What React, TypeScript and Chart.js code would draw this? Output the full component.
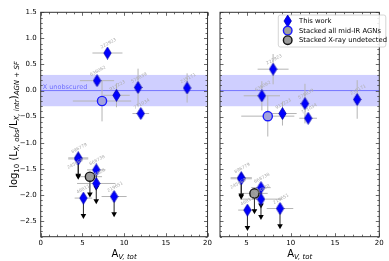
import React, { useEffect, useRef } from 'react';
import { Chart, registerables } from 'chart.js';
Chart.register(...registerables);

const FONT = "'DejaVu Sans', sans-serif";

// Source IDs
const SRC_DET = ['222923', '636062', '911223', '578839', '771034', '235171'];
const SRC_LIM = ['896779', '245869', '668738', '174820', '468117', '219651'];

// ---- Left panel ----
const L_DET_X = [8.0, 6.75, 9.08, 11.67, 12.0, 17.55];
const L_DET_Y = [0.72, 0.19, -0.09, 0.06, -0.44, 0.05];
const L_DET_XERR = [1.8, 2.05, 1.6, 0.55, 1.0, 0.4];
const L_DET_YERR = [0.1, 0.06, 0.23, 0.36, 0.06, 0.28];
const L_LIM_X = [4.5, 4.5, 6.66, 6.66, 5.12, 8.8];
const L_LIM_Y = [-1.29, -1.31, -1.52, -1.78, -2.06, -2.03];
const L_LIM_XERR = [1.2, 1.2, 1.1, 2.3, 1.05, 1.5];
const L_MIR = { x: 7.35, y: -0.2, xerr: 3.5, yerr: 0.39 };
const L_XUND = { x: 5.9, y: -1.65, xerr: 1.45 };

// ---- Right panel ----
const R_DET_X = [8.0, 6.73, 9.06, 11.6, 11.96, 17.5];
const R_DET_Y = [0.41, -0.1, -0.44, -0.25, -0.53, -0.17];
const R_DET_XERR = [1.75, 2.05, 1.6, 0.55, 1.0, 0.4];
const R_DET_YERR = [0.29, 0.28, 0.23, 0.38, 0.08, 0.37];
const R_LIM_X = [4.4, 4.4, 6.63, 6.63, 5.1, 8.78];
const R_LIM_Y = [-1.67, -1.69, -1.86, -2.08, -2.29, -2.26];
const R_LIM_XERR = [1.2, 1.2, 1.1, 2.35, 1.05, 1.5];
const R_MIR = { x: 7.4, y: -0.49, xerr: 3.0, yerr: 0.39 };
const R_XUND = { x: 5.89, y: -1.97, xerr: 1.5 };

const UPLIM_LEN = 0.39;
const BAND = [-0.3, 0.3];
const Y_MIN = -2.8, Y_MAX = 1.5;
const Y_TICKS = [-2.5, -2.0, -1.5, -1.0, -0.5, 0.0, 0.5, 1.0, 1.5];
const L_XRANGE = [0, 20];
const R_XRANGE = [2, 20];
const L_XTICKS = [0, 5, 10, 15, 20];
const R_XTICKS = [5, 10, 15, 20];

const LEGEND_LABELS = ['This work', 'Stacked all mid-IR AGNs', 'Stacked X-ray undetected'];

function makeDiamond(): HTMLCanvasElement {
  const c = document.createElement('canvas');
  c.width = 9; c.height = 13;
  const g = c.getContext('2d')!;
  g.beginPath();
  g.moveTo(4.5, 0.6); g.lineTo(8.2, 6.5); g.lineTo(4.5, 12.4); g.lineTo(0.8, 6.5); g.closePath();
  g.fillStyle = '#0000ff'; g.fill();
  g.strokeStyle = '#0000b0'; g.lineWidth = 0.8; g.stroke();
  return c;
}

function drawDiamondAt(ctx: CanvasRenderingContext2D, x: number, y: number) {
  ctx.beginPath();
  ctx.moveTo(x, y - 5.9); ctx.lineTo(x + 3.7, y); ctx.lineTo(x, y + 5.9); ctx.lineTo(x - 3.7, y); ctx.closePath();
  ctx.fillStyle = '#0000ff'; ctx.fill();
  ctx.strokeStyle = '#0000b0'; ctx.lineWidth = 0.8; ctx.stroke();
}

type Run = { t: string; s: number; sub?: boolean; it?: boolean };
function drawRuns(ctx: CanvasRenderingContext2D, runs: Run[], cx: number, cy: number, rot: number) {
  ctx.save();
  ctx.translate(cx, cy);
  ctx.rotate(rot);
  let total = 0;
  const widths = runs.map(r => {
    ctx.font = `${r.it ? 'italic ' : ''}${r.s}px ${FONT}`;
    const w = ctx.measureText(r.t).width;
    total += w;
    return w;
  });
  let x = -total / 2;
  ctx.fillStyle = '#000';
  ctx.textBaseline = 'alphabetic';
  ctx.textAlign = 'left';
  runs.forEach((r, i) => {
    ctx.font = `${r.it ? 'italic ' : ''}${r.s}px ${FONT}`;
    ctx.fillText(r.t, x, r.sub ? 2.6 : 0);
    x += widths[i];
  });
  ctx.restore();
}

function buildPanel(side: 'L' | 'R') {
  const isL = side === 'L';
  const detX = isL ? L_DET_X : R_DET_X, detY = isL ? L_DET_Y : R_DET_Y;
  const detXe = isL ? L_DET_XERR : R_DET_XERR, detYe = isL ? L_DET_YERR : R_DET_YERR;
  const limX = isL ? L_LIM_X : R_LIM_X, limY = isL ? L_LIM_Y : R_LIM_Y;
  const limXe = isL ? L_LIM_XERR : R_LIM_XERR;
  const mir = isL ? L_MIR : R_MIR, xund = isL ? L_XUND : R_XUND;

  const workData = [
    ...detX.map((x, i) => ({ x, y: detY[i] })),
    ...limX.map((x, i) => ({ x, y: limY[i] })),
  ];
  const work: any = {
    label: LEGEND_LABELS[0],
    data: workData,
    xerr: [...detXe, ...limXe],
    yerr: [...detYe, ...limX.map(() => 0)],
    lim: [...detX.map(() => false), ...limX.map(() => true)],
    names: [...SRC_DET, ...SRC_LIM],
    pointStyle: makeDiamond(),
    pointRadius: 5,
    order: 1,
  };
  const mirDs: any = {
    label: LEGEND_LABELS[1],
    data: [{ x: mir.x, y: mir.y }],
    xerr: [mir.xerr], yerr: [mir.yerr], lim: [false],
    pointStyle: 'circle', pointRadius: 4.6, borderWidth: 1.4,
    backgroundColor: '#a2a2dc', borderColor: '#1a1aff', order: 2,
  };
  const xundDs: any = {
    label: LEGEND_LABELS[2],
    data: [{ x: xund.x, y: xund.y }],
    xerr: [xund.xerr], yerr: [0], lim: [true],
    pointStyle: 'circle', pointRadius: 4.6, borderWidth: 1.4,
    backgroundColor: '#9a9a9a', borderColor: '#111111', order: 0,
  };
  return [work, mirDs, xundDs];
}

function makePlugin(side: 'L' | 'R') {
  const isL = side === 'L';
  const xMinor: number[] = [];
  const xr = isL ? L_XRANGE : R_XRANGE;
  for (let v = Math.ceil(xr[0]); v <= xr[1]; v += 1) xMinor.push(v);
  const xMajor = isL ? L_XTICKS : R_XTICKS;
  const yMinor: number[] = [];
  for (let k = -28; k <= 15; k++) yMinor.push(k / 10);

  return {
    id: 'panel' + side,
    beforeDatasetsDraw(chart: any) {
      const { ctx, chartArea: a, scales: { x, y } } = chart;
      ctx.save();
      ctx.beginPath(); ctx.rect(a.left, a.top, a.right - a.left, a.bottom - a.top); ctx.clip();
      // band
      const b0 = y.getPixelForValue(BAND[1]), b1 = y.getPixelForValue(BAND[0]);
      ctx.fillStyle = 'rgba(0,0,255,0.19)';
      ctx.fillRect(a.left, b0, a.right - a.left, b1 - b0);
      const z = y.getPixelForValue(0);
      ctx.strokeStyle = 'rgba(40,40,255,0.55)'; ctx.lineWidth = 1;
      ctx.beginPath(); ctx.moveTo(a.left, z); ctx.lineTo(a.right, z); ctx.stroke();
      if (isL) {
        ctx.fillStyle = 'rgba(40,40,255,0.6)';
        ctx.font = `6.5px ${FONT}`; ctx.textBaseline = 'alphabetic'; ctx.textAlign = 'left';
        ctx.fillText('X unobscured', a.left + 2, z - 1.5);
      }
      // error bars
      ctx.strokeStyle = '#b4b4b4'; ctx.lineWidth = 1;
      chart.data.datasets.forEach((ds: any) => {
        ds.data.forEach((p: any, i: number) => {
          const px = x.getPixelForValue(p.x), py = y.getPixelForValue(p.y);
          if (ds.xerr && ds.xerr[i]) {
            ctx.beginPath();
            ctx.moveTo(x.getPixelForValue(p.x - ds.xerr[i]), py);
            ctx.lineTo(x.getPixelForValue(p.x + ds.xerr[i]), py);
            ctx.stroke();
          }
          if (ds.yerr && ds.yerr[i]) {
            ctx.beginPath();
            ctx.moveTo(px, y.getPixelForValue(p.y - ds.yerr[i]));
            ctx.lineTo(px, y.getPixelForValue(p.y + ds.yerr[i]));
            ctx.stroke();
          }
        });
      });
      // upper-limit arrows
      chart.data.datasets.forEach((ds: any) => {
        ds.data.forEach((p: any, i: number) => {
          if (!ds.lim || !ds.lim[i]) return;
          const px = x.getPixelForValue(p.x), py = y.getPixelForValue(p.y);
          const ey = y.getPixelForValue(p.y - UPLIM_LEN);
          ctx.strokeStyle = '#222'; ctx.lineWidth = 1;
          ctx.beginPath(); ctx.moveTo(px, py); ctx.lineTo(px, ey - 3); ctx.stroke();
          ctx.fillStyle = '#000';
          ctx.beginPath(); ctx.moveTo(px - 2.8, ey - 4.5); ctx.lineTo(px + 2.8, ey - 4.5); ctx.lineTo(px, ey + 0.5); ctx.closePath(); ctx.fill();
        });
      });
      ctx.restore();
    },
    afterDatasetsDraw(chart: any) {
      const { ctx, chartArea: a, scales: { x, y } } = chart;
      ctx.save();
      // source labels
      const ds = chart.data.datasets[0];
      ctx.fillStyle = '#ababab';
      ctx.font = `4.5px ${FONT}`; ctx.textAlign = 'center'; ctx.textBaseline = 'middle';
      ds.data.forEach((p: any, i: number) => {
        const px = x.getPixelForValue(p.x), py = y.getPixelForValue(p.y);
        const dup = ds.data.slice(0, i).some((q: any) => Math.abs(q.x - p.x) < 0.05 && Math.abs(q.y - p.y) < 0.05);
        ctx.save();
        if (dup) ctx.translate(px - 3, py + 5); else ctx.translate(px + 1, py - 9.5);
        ctx.rotate(-0.5);
        ctx.fillText(ds.names[i], 0, 0);
        ctx.restore();
      });
      // frame & ticks
      ctx.strokeStyle = '#444'; ctx.lineWidth = 0.8;
      const tick = (x0: number, y0: number, x1: number, y1: number) => { ctx.beginPath(); ctx.moveTo(x0, y0); ctx.lineTo(x1, y1); ctx.stroke(); };
      xMinor.forEach(v => {
        const px = Math.round(x.getPixelForValue(v)) + 0.5;
        const L = xMajor.includes(v) ? 3.5 : 2;
        tick(px, a.bottom, px, a.bottom - L);
        tick(px, a.top, px, a.top + L);
      });
      yMinor.forEach(v => {
        const py = Math.round(y.getPixelForValue(v)) + 0.5;
        const L = Math.abs(v * 2 - Math.round(v * 2)) < 1e-6 ? 3.5 : 2;
        tick(a.left, py, a.left + L, py);
        tick(a.right, py, a.right - L, py);
      });
      ctx.strokeStyle = '#333'; ctx.lineWidth = 1;
      ctx.strokeRect(a.left, a.top, a.right - a.left, a.bottom - a.top);
      ctx.restore();
    },
    afterDraw(chart: any) {
      const { ctx, chartArea: a } = chart;
      const cx = (a.left + a.right) / 2;
      drawRuns(ctx, [
        { t: 'A', s: 10 },
        { t: 'V, tot', s: 7, sub: true, it: true },
      ], cx, 256.5, 0);
      if (isL) {
        drawRuns(ctx, [
          { t: 'log', s: 10 },
          { t: '10', s: 7, sub: true },
          { t: ' (L', s: 10 },
          { t: 'X, obs', s: 7, sub: true, it: true },
          { t: '/L', s: 10 },
          { t: 'X, intr', s: 7, sub: true, it: true },
          { t: ')', s: 10 },
          { t: 'AGN + SF', s: 7, sub: true, it: true },
        ], 16.5, (a.top + a.bottom) / 2, -Math.PI / 2);
      } else {
        // legend
        const bx = a.left + 58.3, by = 15, bw = 107.5, bh = 32;
        ctx.save();
        ctx.fillStyle = 'rgba(255,255,255,0.85)';
        ctx.strokeStyle = '#cccccc'; ctx.lineWidth = 0.8;
        ctx.beginPath();
        (ctx as any).roundRect ? (ctx as any).roundRect(bx, by, bw, bh, 2) : ctx.rect(bx, by, bw, bh);
        ctx.fill(); ctx.stroke();
        const mx = bx + 9.4;
        const rows = [by + 6, by + 15.6, by + 25.2];
        drawDiamondAt(ctx, mx, rows[0]);
        ctx.lineWidth = 1.4;
        ctx.beginPath(); ctx.arc(mx, rows[1], 4.3, 0, Math.PI * 2);
        ctx.fillStyle = '#a0a0a0'; ctx.fill(); ctx.strokeStyle = '#1a1aff'; ctx.stroke();
        ctx.beginPath(); ctx.arc(mx, rows[2], 4.3, 0, Math.PI * 2);
        ctx.fillStyle = '#9a9a9a'; ctx.fill(); ctx.strokeStyle = '#111'; ctx.stroke();
        ctx.fillStyle = '#000'; ctx.font = `6.8px ${FONT}`; ctx.textBaseline = 'middle'; ctx.textAlign = 'left';
        LEGEND_LABELS.forEach((t, i) => ctx.fillText(t, bx + 20.7, rows[i] + 0.3));
        ctx.restore();
      }
    },
  };
}

function makeConfig(side: 'L' | 'R', width: number): any {
  const isL = side === 'L';
  const xr = isL ? L_XRANGE : R_XRANGE;
  const xt = isL ? L_XTICKS : R_XTICKS;
  const areaLeft = isL ? 40.7 : 10;
  const areaRight = isL ? 209.7 : 179.3;
  return {
    type: 'scatter',
    data: { datasets: buildPanel(side) },
    options: {
      responsive: false,
      animation: false,
      devicePixelRatio: 1,
      events: [],
      layout: { padding: { top: 12.3, bottom: 0, left: isL ? 0 : areaLeft, right: width - areaRight } },
      plugins: { legend: { display: false }, tooltip: { enabled: false } },
      scales: {
        x: {
          type: 'linear', min: xr[0], max: xr[1],
          afterBuildTicks: (s: any) => { s.ticks = xt.map(v => ({ value: v })); },
          afterFit: (s: any) => { s.height = 24.3; },
          grid: { display: false, drawTicks: false },
          border: { display: false },
          ticks: {
            font: { family: FONT, size: 7 }, color: '#000', padding: 2,
            maxRotation: 0, autoSkip: false,
            callback: (v: number) => String(v),
          },
        },
        y: {
          type: 'linear', min: Y_MIN, max: Y_MAX, display: isL,
          afterBuildTicks: (s: any) => { s.ticks = Y_TICKS.map(v => ({ value: v })); },
          afterFit: (s: any) => { s.width = areaLeft; },
          grid: { display: false, drawTicks: false },
          border: { display: false },
          ticks: {
            font: { family: FONT, size: 7 }, color: '#000', padding: 4,
            callback: (v: number) => v.toFixed(1).replace('-', '\u2212'),
          },
        },
      },
    },
    plugins: [makePlugin(side)],
  };
}

function Panel({ side, left, width }: { side: 'L' | 'R'; left: number; width: number }) {
  const ref = useRef<HTMLCanvasElement>(null);
  useEffect(() => {
    const chart = new Chart(ref.current!, makeConfig(side, width));
    return () => chart.destroy();
  }, []);
  return (
    <canvas
      ref={ref}
      width={width}
      height={261}
      style={{ position: 'absolute', left, top: 0, width, height: 261 }}
    />
  );
}

export default function App() {
  return (
    <div style={{ position: 'fixed', left: 0, top: 0, width: 389, height: 261, background: '#fff', overflow: 'hidden' }}>
      <Panel side="L" left={0} width={214} />
      <Panel side="R" left={200} width={189} />
    </div>
  );
}
